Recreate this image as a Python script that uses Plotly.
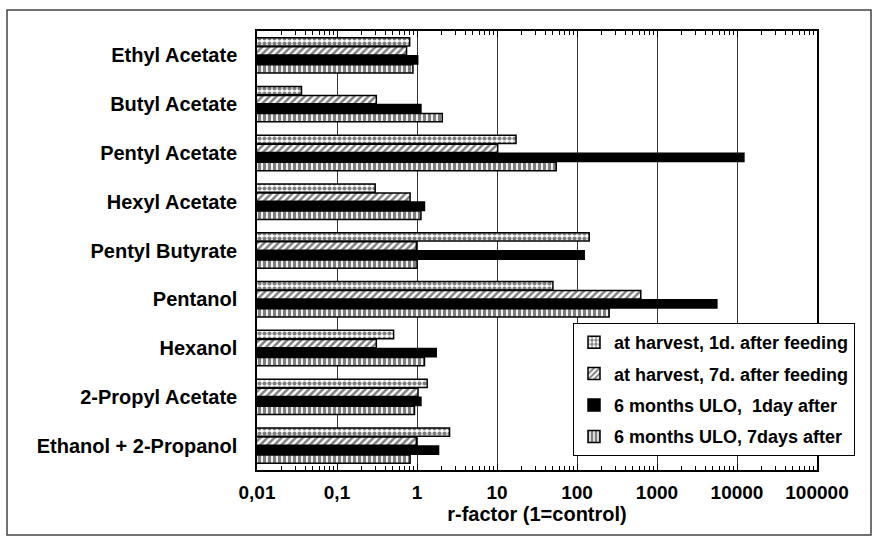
import plotly.graph_objects as go

categories = ["Ethyl Acetate", "Butyl Acetate", "Pentyl Acetate", "Hexyl Acetate",
              "Pentyl Butyrate", "Pentanol", "Hexanol", "2-Propyl Acetate",
              "Ethanol + 2-Propanol"]

series_names = ["at harvest, 1d. after feeding", "at harvest, 7d. after feeding",
                "6 months ULO,  1day after", "6 months ULO, 7days after"]

harvest_1d = [0.81, 0.036, 17.3, 0.30, 142, 50, 0.51, 1.34, 2.55]
harvest_7d = [0.74, 0.31, 10.2, 0.82, 0.98, 627, 0.31, 1.03, 0.98]
ulo_1d = [1.02, 1.12, 12200, 1.24, 123, 5600, 1.74, 1.12, 1.86]
ulo_7d = [0.89, 2.07, 55, 1.12, 1.0, 252, 1.24, 0.93, 0.82]

tick_vals = [0.01, 0.1, 1, 10, 100, 1000, 10000, 100000]
tick_text = ["0,01", "0,1", "1", "10", "100", "1000", "10000", "100000"]
minor_vals = [m * d for d in [0.01, 0.1, 1, 10, 100, 1000, 10000] for m in range(2, 10)]

values = [harvest_1d, harvest_7d, ulo_1d, ulo_7d]
patterns = [
    dict(shape=".", fgcolor="black", bgcolor="white", size=5, solidity=0.55),
    dict(shape="/", fgcolor="black", bgcolor="white", size=5, solidity=0.5),
    dict(shape="", fgcolor="black", bgcolor="black"),
    dict(shape="|", fgcolor="black", bgcolor="white", size=5, solidity=0.65),
]
fills = ["white", "white", "black", "white"]

FONT = "Liberation Sans, Arial, sans-serif"

fig = go.Figure()
for i in range(4):
    fig.add_trace(go.Bar(
        y=categories, x=values[i], orientation="h", name=series_names[i],
        legendgroup=f"g{i}",
        marker=dict(color=fills[i], pattern=patterns[i],
                    line=dict(color="black", width=1.5)),
    ))

L, R, T, B = 257, 817, 31, 470
W, H = 880, 544
pw, ph = R - L, B - T

def px(x):
    return (x - L) / pw

def py(y):
    return (B - y) / ph

fig.add_shape(type="rect", xref="paper", yref="paper",
              x0=px(7), x1=px(871), y0=py(535), y1=py(10),
              line=dict(color="#444", width=1.5), layer="below")

fig.update_layout(
    width=W, height=H,
    margin=dict(l=L, r=W - R, t=T, b=H - B),
    paper_bgcolor="white", plot_bgcolor="white",
    barmode="group", bargap=0.26, bargroupgap=0.08,
    font=dict(family=FONT, color="black", size=19, weight="bold"),
    showlegend=True,
    legend=dict(x=px(573), y=py(323), xanchor="left", yanchor="top",
                bgcolor="white", bordercolor="black", borderwidth=1,
                traceorder="grouped", tracegroupgap=5,
                font=dict(family=FONT, size=18, weight="bold", color="black"),
                itemwidth=30),
    xaxis=dict(type="log", range=[-2, 5], tickvals=tick_vals, ticktext=tick_text,
               showgrid=True, gridcolor="#333", gridwidth=1,
               showline=True, linecolor="black", linewidth=1.5, mirror="ticks",
               ticks="inside", ticklen=6, tickcolor="black", ticklabelstandoff=4,
               minor=dict(tickvals=minor_vals, ticks="inside", ticklen=4,
                          tickcolor="black", showgrid=False),
               title=dict(text="r-factor (1=control)", standoff=0,
                          font=dict(family=FONT, size=20, weight="bold")),
               tickfont=dict(family=FONT, size=19, weight="bold"),
               zeroline=False),
    yaxis=dict(autorange="reversed", showline=True, linecolor="black", linewidth=1.5,
               mirror=True, ticks="", ticklabelstandoff=14, showgrid=False,
               tickfont=dict(family=FONT, size=20, weight="bold")),
)

fig.write_html("out.html", config={"displayModeBar": False},
               post_script="document.body.style.margin='0';")
